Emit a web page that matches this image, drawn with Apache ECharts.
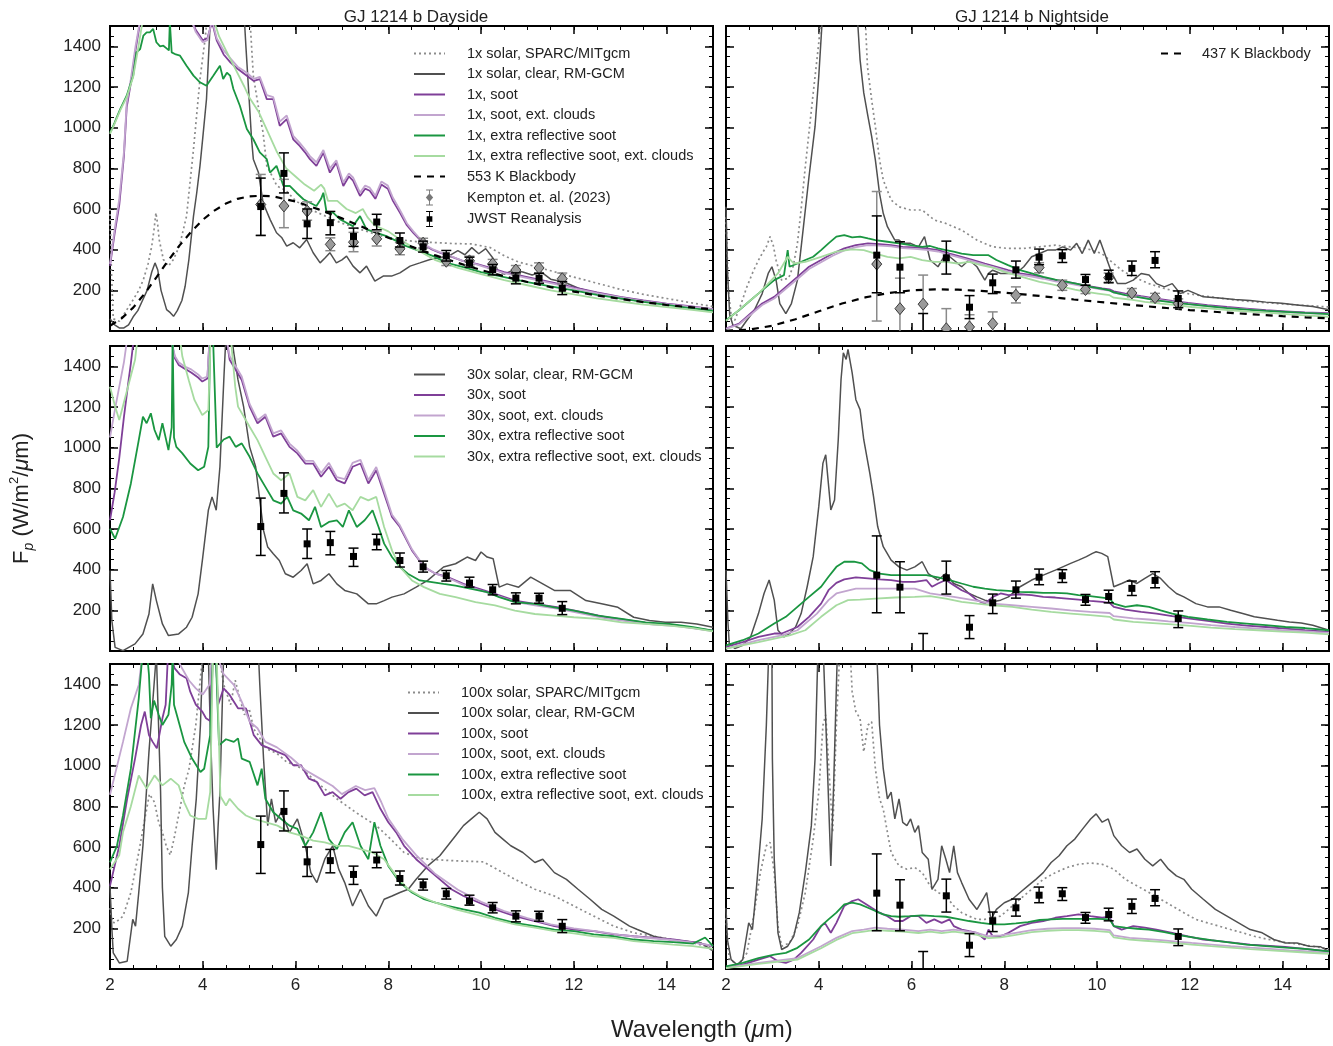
<!DOCTYPE html>
<html><head><meta charset="utf-8">
<script src="https://cdn.jsdelivr.net/npm/echarts@6/dist/echarts.min.js"></script>
<style>html,body{margin:0;padding:0;background:#fff}#c{width:1333px;height:1046px}</style>
</head><body><div id="c"></div><script>
// ---------- data: bins ----------
const binX = [5.25,5.75,6.25,6.75,7.25,7.75,8.25,8.75,9.25,9.75,10.25,10.75,11.25,11.75];
const jwstDayY  = [612,775,527,533,465,536,445,414,370,334,301,260,260,210];
const jwstDayLo = [470,679,455,473,416,498,413,388,344,314,276,232,235,179];
const jwstDayHi = [752,876,600,588,506,574,482,442,396,363,327,286,284,243];
const jwstNightY  = [373,314,-150,360,117,237,301,363,370,253,268,308,347,160];
const jwstNightLo = [188,188,-300,280,61,184,260,326,337,225,237,273,311,115];
const jwstNightHi = [566,439,86,442,174,280,344,403,400,278,299,344,390,197];
const kemptonDayY  = [622,615,590,426,437,453,404,432,343,345,330,300,310,257];
const kemptonDayLo = [470,508,545,395,390,418,375,408,322,325,308,278,285,230];
const kemptonDayHi = [770,746,635,458,485,490,435,456,365,368,352,322,335,285];
const kemptonNightY  = [329,110,132,11,20,36,176,312,225,204,262,187,164,135];
const kemptonNightLo = [49,-40,-20,-100,-50,-20,138,286,200,184,240,168,145,115];
const kemptonNightHi = [686,260,275,110,80,94,217,336,250,225,285,209,185,158];

const xTicks = [2,4,6,8,10,12,14];
const yTicks = [200,400,600,800,1000,1200,1400];

// ---------- blackbodies ----------
const bb553 = [[2.0,26],[2.25,62],[2.5,115],[2.75,185],[3.0,264],[3.25,345],[3.5,421],[3.75,488],[4.0,547],[4.25,592],[4.5,627],[4.75,650],[5.0,662],[5.25,665],[5.5,663],[6.0,637],[6.5,598],[7.0,554],[7.5,506],[8.0,459],[8.5,415],[9.0,373],[9.5,335],[10.0,300],[10.5,269],[11.0,241],[11.5,216],[12.0,194],[12.5,175],[13.0,158],[13.5,142],[14.0,128],[14.5,117],[15.0,106]];
const bb437 = [[2.0,1],[2.5,7],[3.0,26],[3.5,58],[4.0,97],[4.5,135],[5.0,165],[5.5,187],[6.0,200],[6.5,205],[7.0,203],[7.5,197],[8.0,189],[8.5,178],[9.0,167],[9.5,155],[10.0,144],[10.5,133],[11.0,123],[11.5,113],[12.0,103],[12.5,95],[13.0,87],[13.5,80],[14.0,73],[14.5,67],[15.0,62]];

// ---------- 1x dayside ----------
const daySparc1 = [[2.0,600],[2.03,300],[2.07,60],[2.2,48],[2.35,100],[2.5,154],[2.62,200],[2.72,253],[2.82,330],[2.9,417],[2.95,500],[2.99,582],[3.03,520],[3.06,450],[3.15,352],[3.26,319],[3.37,352],[3.5,420],[3.65,565],[3.8,894],[3.94,1239],[4.05,1436],[4.12,1600],[5.0,1600],[5.09,1255],[5.2,1100],[5.3,976],[5.38,812],[5.5,760],[5.6,713],[5.8,690],[6.0,640],[6.3,600],[6.6,570],[7.0,530],[7.4,500],[7.8,470],[8.2,450],[8.6,440],[9.0,435],[9.4,430],[9.8,428],[10.2,410],[10.5,370],[10.8,340],[11.2,315],[11.6,290],[12.0,265],[12.5,235],[13.0,205],[13.5,180],[14.0,160],[14.5,140],[15.0,120]];
const dayClear1 = [[2.0,60],[2.1,30],[2.2,15],[2.3,15],[2.4,30],[2.5,70],[2.6,100],[2.7,150],[2.8,200],[2.9,290],[2.97,335],[3.03,300],[3.1,200],[3.22,105],[3.3,90],[3.37,72],[3.45,100],[3.55,150],[3.62,220],[3.7,350],[3.8,565],[3.87,680],[3.94,812],[4.0,950],[4.08,1140],[4.15,1470],[4.2,1600],[4.88,1600],[4.93,1400],[5.0,1140],[5.05,950],[5.09,845],[5.2,780],[5.3,631],[5.45,549],[5.59,483],[5.7,460],[5.81,417],[5.95,434],[6.09,409],[6.24,450],[6.38,385],[6.53,335],[6.64,360],[6.74,385],[6.88,335],[7.0,350],[7.1,368],[7.24,319],[7.39,286],[7.53,319],[7.71,245],[7.89,270],[8.07,270],[8.25,286],[8.47,319],[8.68,335],[8.9,352],[9.11,360],[9.3,368],[9.5,395],[9.65,375],[9.8,410],[9.95,380],[10.1,405],[10.25,360],[10.35,300],[10.5,280],[10.7,300],[10.9,290],[11.1,275],[11.3,290],[11.5,255],[11.8,240],[12.1,210],[12.5,185],[13.0,160],[13.5,145],[14.0,130],[14.5,118],[15.0,100]];
const daySoot1 = [[2.0,320],[2.1,480],[2.2,620],[2.3,860],[2.36,1100],[2.45,1220],[2.55,1380],[2.65,1520],[3.7,1560],[3.85,1480],[4.0,1430],[4.1,1440],[4.2,1520],[4.3,1430],[4.45,1360],[4.6,1320],[4.75,1290],[4.95,1255],[5.1,1230],[5.23,1239],[5.38,1140],[5.52,1140],[5.66,1009],[5.81,1042],[5.95,943],[6.09,910],[6.2,880],[6.31,845],[6.45,812],[6.6,877],[6.74,779],[6.88,828],[7.03,713],[7.15,760],[7.24,740],[7.39,664],[7.5,700],[7.6,690],[7.72,650],[7.85,720],[7.99,700],[8.1,640],[8.25,582],[8.4,520],[8.54,483],[8.68,450],[8.82,417],[8.95,400],[9.11,385],[9.33,368],[9.6,345],[9.9,330],[10.2,310],[10.5,290],[10.8,275],[11.2,255],[11.6,235],[12.0,215],[12.5,190],[13.0,168],[13.5,150],[14.0,135],[14.5,122],[15.0,108]];
const daySootCl1 = [[2.0,330],[2.1,500],[2.2,650],[2.3,880],[2.36,1120],[2.45,1240],[2.55,1400],[2.65,1530],[3.7,1560],[3.85,1470],[4.0,1420],[4.1,1430],[4.2,1530],[4.3,1440],[4.45,1380],[4.6,1340],[4.75,1300],[4.95,1270],[5.1,1240],[5.23,1250],[5.38,1160],[5.52,1150],[5.66,1030],[5.81,1060],[5.95,960],[6.09,925],[6.2,895],[6.31,860],[6.45,830],[6.6,890],[6.74,800],[6.88,840],[7.03,730],[7.15,775],[7.24,755],[7.39,680],[7.5,715],[7.6,705],[7.72,665],[7.85,735],[7.99,715],[8.1,655],[8.25,595],[8.4,530],[8.54,490],[8.68,455],[8.82,420],[8.95,403],[9.11,388],[9.33,370],[9.6,345],[9.9,328],[10.2,306],[10.5,285],[10.8,270],[11.2,250],[11.6,230],[12.0,210],[12.5,186],[13.0,165],[13.5,147],[14.0,132],[14.5,120],[15.0,106]];
const dayRefl1 = [[2.0,976],[2.04,993],[2.1,1025],[2.22,1091],[2.36,1157],[2.5,1256],[2.57,1370],[2.65,1387],[2.72,1453],[2.79,1469],[2.86,1469],[2.93,1486],[3.0,1420],[3.08,1400],[3.15,1403],[3.22,1390],[3.27,1380],[3.29,1520],[3.33,1370],[3.42,1360],[3.51,1354],[3.65,1305],[3.8,1256],[3.94,1223],[4.08,1206],[4.23,1256],[4.37,1305],[4.44,1239],[4.52,1270],[4.59,1256],[4.66,1190],[4.8,1108],[4.95,993],[5.09,943],[5.23,878],[5.38,845],[5.45,779],[5.59,812],[5.74,713],[5.88,713],[6.02,680],[6.17,648],[6.31,631],[6.45,615],[6.55,650],[6.6,680],[6.67,582],[6.81,582],[6.96,549],[7.1,532],[7.24,516],[7.39,565],[7.53,500],[7.75,483],[7.96,467],[8.18,442],[8.39,417],[8.68,393],[8.97,368],[9.26,335],[9.6,315],[10.0,290],[10.5,265],[11.0,240],[11.5,220],[12.0,200],[12.5,178],[13.0,160],[13.5,143],[14.0,128],[14.5,113],[15.0,100]];
const dayReflCl1 = [[2.0,970],[2.1,1020],[2.22,1085],[2.36,1150],[2.5,1250],[2.6,1380],[2.7,1520],[4.25,1520],[4.35,1450],[4.5,1380],[4.7,1290],[4.9,1200],[5.0,1150],[5.2,1080],[5.4,980],[5.6,880],[5.8,800],[6.0,760],[6.2,720],[6.4,690],[6.55,720],[6.62,700],[6.7,640],[6.9,640],[7.1,600],[7.3,580],[7.45,600],[7.55,560],[7.7,520],[8.0,490],[8.25,450],[8.5,415],[9.0,350],[9.5,310],[10.0,280],[10.5,250],[11.0,225],[11.5,200],[12.0,180],[12.5,160],[13.0,145],[13.5,130],[14.0,118],[14.5,105],[15.0,92]];

// ---------- 1x nightside ----------
const nightSparc1 = [[2.0,560],[2.05,200],[2.12,60],[2.19,53],[2.32,130],[2.45,217],[2.58,290],[2.7,348],[2.8,390],[2.87,414],[2.95,464],[3.02,420],[3.08,348],[3.2,250],[3.35,260],[3.45,320],[3.54,431],[3.62,600],[3.71,809],[3.8,1000],[3.88,1170],[4.0,1417],[4.05,1550],[5.0,1550],[5.05,1300],[5.14,1137],[5.22,1006],[5.31,842],[5.39,743],[5.56,644],[5.73,611],[5.98,595],[6.23,595],[6.49,546],[6.74,529],[7.08,496],[7.41,447],[7.75,414],[8.08,406],[8.42,406],[8.76,414],[9.1,422],[9.43,414],[9.77,406],[10.1,381],[10.27,349],[10.53,299],[10.78,266],[11.12,233],[11.45,209],[11.79,190],[12.21,175],[12.63,162],[13.05,150],[13.47,142],[13.89,135],[14.31,128],[14.74,122],[15.0,118]];
const nightClear1 = [[2.0,611],[2.03,300],[2.08,80],[2.15,28],[2.32,11],[2.45,53],[2.61,102],[2.78,184],[2.91,283],[2.99,316],[3.08,250],[3.16,135],[3.29,85],[3.41,135],[3.54,250],[3.67,513],[3.79,760],[3.92,1006],[4.0,1253],[4.08,1550],[4.83,1550],[4.89,1335],[4.97,1171],[5.06,1055],[5.14,957],[5.22,842],[5.31,677],[5.39,579],[5.48,513],[5.56,480],[5.64,447],[5.73,447],[5.81,431],[5.98,431],[6.15,414],[6.28,464],[6.4,349],[6.57,316],[6.74,381],[6.91,349],[7.08,316],[7.24,349],[7.41,316],[7.58,250],[7.66,283],[7.75,299],[7.92,283],[8.08,283],[8.25,283],[8.42,316],[8.59,365],[8.76,381],[8.93,398],[9.1,398],[9.26,414],[9.43,398],[9.56,431],[9.68,381],[9.81,447],[9.94,381],[10.06,447],[10.19,365],[10.32,283],[10.44,233],[10.61,233],[10.78,250],[10.95,283],[11.12,275],[11.28,233],[11.45,217],[11.62,233],[11.79,184],[11.96,200],[12.29,168],[12.63,162],[12.97,155],[13.3,150],[13.64,142],[13.98,136],[14.31,128],[14.65,120],[15.0,105]];
const nightSoot1 = [[2.0,12],[2.28,36],[2.53,86],[2.78,135],[3.04,168],[3.29,217],[3.54,266],[3.79,316],[4.05,349],[4.3,381],[4.55,406],[4.8,422],[5.06,431],[5.31,427],[5.56,422],[5.81,414],[6.07,411],[6.32,406],[6.57,398],[6.82,381],[7.08,365],[7.33,349],[7.58,332],[7.83,316],[8.08,299],[8.34,283],[8.59,275],[8.84,263],[9.1,250],[9.35,242],[9.6,230],[9.85,220],[10.11,210],[10.27,205],[10.36,195],[10.61,184],[10.95,171],[11.28,159],[11.62,148],[11.96,138],[12.38,127],[12.8,118],[13.22,110],[13.64,102],[14.06,97],[14.48,92],[15.0,88]];
const nightSootCl1 = [[2.0,10],[2.28,32],[2.53,80],[2.78,128],[3.04,160],[3.29,208],[3.54,256],[3.79,305],[4.05,338],[4.3,370],[4.55,396],[4.8,412],[5.06,422],[5.31,420],[5.56,416],[5.81,408],[6.07,404],[6.32,399],[6.57,391],[6.82,374],[7.08,358],[7.33,342],[7.58,325],[7.83,309],[8.08,292],[8.34,277],[8.59,268],[8.84,257],[9.1,244],[9.35,236],[9.6,224],[9.85,214],[10.11,204],[10.27,199],[10.36,189],[10.61,178],[10.95,166],[11.28,154],[11.62,143],[11.96,133],[12.38,122],[12.8,113],[13.22,106],[13.64,98],[14.06,93],[14.48,88],[15.0,84]];
const nightRefl1 = [[2.0,53],[2.28,102],[2.53,151],[2.78,200],[3.04,250],[3.25,275],[3.33,398],[3.37,316],[3.54,332],[3.71,349],[3.88,365],[4.05,398],[4.21,431],[4.38,464],[4.55,472],[4.72,460],[4.89,464],[5.06,455],[5.22,447],[5.48,439],[5.73,431],[5.98,422],[6.23,414],[6.4,418],[6.57,406],[6.74,398],[6.91,390],[7.08,381],[7.33,373],[7.66,373],[7.83,349],[8.08,324],[8.34,299],[8.59,283],[8.84,266],[9.1,253],[9.35,242],[9.6,230],[9.85,217],[10.11,207],[10.27,200],[10.36,190],[10.61,176],[10.95,164],[11.28,151],[11.62,141],[11.96,132],[12.38,122],[12.8,113],[13.22,105],[13.64,99],[14.06,94],[14.48,89],[15.0,83]];
const nightReflCl1 = [[2.0,50],[2.7,184],[3.12,283],[3.33,365],[3.46,332],[3.71,340],[4.05,365],[4.38,390],[4.72,401],[4.97,398],[5.22,381],[5.48,365],[5.73,357],[5.98,365],[6.23,349],[6.49,340],[6.74,340],[6.99,332],[7.24,340],[7.5,324],[7.75,312],[8.0,291],[8.25,275],[8.51,258],[8.76,242],[9.01,230],[9.26,217],[9.52,204],[9.77,192],[10.02,184],[10.27,176],[10.36,164],[10.7,155],[11.03,143],[11.37,135],[11.71,127],[12.04,118],[12.46,110],[12.88,102],[13.3,95],[13.73,89],[14.15,82],[14.57,76],[15.0,70]];

// ---------- 30x dayside ----------
const dayClear30 = [[2.0,396],[2.04,150],[2.11,18],[2.28,2],[2.54,35],[2.71,84],[2.84,182],[2.92,330],[3.0,248],[3.13,133],[3.26,76],[3.48,84],[3.65,117],[3.77,166],[3.9,281],[4.0,462],[4.12,692],[4.2,758],[4.29,692],[4.37,906],[4.46,1366],[4.5,1550],[4.62,1550],[4.67,1465],[4.76,1333],[4.88,1202],[5.01,1004],[5.14,906],[5.23,741],[5.31,593],[5.4,511],[5.52,478],[5.65,445],[5.78,380],[5.95,363],[6.12,396],[6.25,429],[6.38,330],[6.55,347],[6.72,380],[6.89,330],[7.06,298],[7.32,281],[7.57,232],[7.74,232],[7.91,248],[8.08,265],[8.34,281],[8.6,314],[8.85,347],[9.19,413],[9.45,429],[9.7,462],[9.88,445],[10.0,487],[10.13,462],[10.26,454],[10.39,314],[10.56,330],[10.81,314],[11.07,363],[11.33,330],[11.58,298],[11.92,298],[12.26,248],[12.6,232],[12.95,215],[13.29,166],[13.63,150],[13.97,141],[14.31,141],[14.65,133],[15.0,117]];
const daySoot30 = [[2.0,643],[2.1,780],[2.2,950],[2.3,1150],[2.4,1330],[2.45,1415],[2.52,1550],[3.3,1550],[3.4,1440],[3.48,1407],[3.6,1390],[3.75,1370],[3.9,1345],[3.99,1325],[4.1,1340],[4.15,1550],[4.5,1550],[4.58,1432],[4.84,1333],[5.01,1202],[5.18,1120],[5.35,1152],[5.52,1054],[5.69,1070],[5.87,1004],[6.04,972],[6.21,922],[6.38,922],[6.55,857],[6.72,906],[6.89,840],[7.06,824],[7.23,906],[7.4,922],[7.57,824],[7.74,889],[7.91,774],[8.08,659],[8.25,610],[8.51,495],[8.77,413],[9.02,380],[9.28,363],[9.62,330],[9.96,306],[10.3,281],[10.73,248],[11.16,232],[11.67,215],[12.18,191],[12.69,166],[13.2,150],[13.72,133],[14.23,125],[14.74,108],[15.0,100]];
const daySootCl30 = [[2.0,1050],[2.1,1180],[2.2,1300],[2.3,1420],[2.38,1550],[3.3,1550],[3.4,1450],[3.48,1420],[3.6,1400],[3.75,1385],[3.9,1360],[3.99,1340],[4.1,1350],[4.15,1550],[4.5,1550],[4.58,1450],[4.84,1350],[5.01,1215],[5.18,1135],[5.35,1165],[5.52,1070],[5.69,1085],[5.87,1020],[6.04,985],[6.21,935],[6.38,935],[6.55,875],[6.72,925],[6.89,855],[7.06,845],[7.23,925],[7.4,940],[7.57,840],[7.74,905],[7.91,790],[8.08,670],[8.25,618],[8.51,500],[8.77,415],[9.02,380],[9.28,360],[9.62,325],[9.96,300],[10.3,275],[10.73,242],[11.16,225],[11.67,207],[12.18,184],[12.69,160],[13.2,145],[13.72,130],[14.23,122],[14.74,106],[15.0,98]];
const dayRefl30 = [[2.0,602],[2.11,552],[2.28,659],[2.45,824],[2.62,1037],[2.71,1152],[2.79,1120],[2.88,1169],[2.96,1087],[3.05,1037],[3.13,1120],[3.26,988],[3.33,1100],[3.35,1550],[3.38,1050],[3.43,1004],[3.56,972],[3.73,922],[3.9,889],[4.03,906],[4.12,1004],[4.16,1550],[4.22,1550],[4.3,1000],[4.45,1040],[4.58,1054],[4.71,1004],[4.84,1021],[5.01,955],[5.18,873],[5.35,807],[5.52,741],[5.69,725],[5.82,758],[5.95,692],[6.12,676],[6.29,643],[6.42,709],[6.55,610],[6.72,635],[6.89,643],[7.02,610],[7.15,692],[7.32,610],[7.49,643],[7.66,692],[7.79,610],[7.91,528],[8.08,462],[8.25,413],[8.42,380],[8.68,347],[8.94,339],[9.19,330],[9.45,322],[9.79,306],[10.13,289],[10.39,265],[10.73,240],[11.16,232],[11.58,215],[12.0,199],[12.52,174],[13.03,158],[13.54,141],[14.06,133],[14.57,117],[15.0,100]];
const dayReflCl30 = [[2.0,1300],[2.11,1202],[2.2,1136],[2.37,1284],[2.54,1432],[2.6,1550],[3.5,1550],[3.56,1448],[3.7,1330],[3.82,1235],[3.99,1160],[4.12,1185],[4.17,1550],[4.6,1550],[4.7,1300],[4.76,1202],[5.01,1103],[5.18,1037],[5.35,955],[5.52,873],[5.69,840],[5.87,873],[6.04,758],[6.21,741],[6.38,791],[6.55,709],[6.72,774],[6.89,709],[7.06,725],[7.23,692],[7.4,758],[7.57,741],[7.74,758],[7.91,610],[8.08,495],[8.25,413],[8.51,347],[8.77,314],[9.11,281],[9.45,265],[9.88,240],[10.3,224],[10.73,199],[11.16,182],[11.58,174],[12.0,166],[12.52,158],[13.03,141],[13.54,133],[14.06,125],[14.57,113],[15.0,97]];

// ---------- 30x nightside ----------
const nightClear30 = [[2.0,398],[2.04,150],[2.07,36],[2.19,12],[2.36,28],[2.53,69],[2.7,184],[2.82,283],[2.93,349],[3.04,250],[3.12,102],[3.25,69],[3.37,86],[3.5,118],[3.62,184],[3.75,316],[3.88,464],[4.0,710],[4.09,924],[4.15,965],[4.26,694],[4.34,743],[4.42,1039],[4.48,1335],[4.53,1466],[4.59,1434],[4.63,1483],[4.72,1368],[4.8,1236],[4.89,1187],[4.97,1039],[5.1,875],[5.18,760],[5.27,612],[5.39,513],[5.56,447],[5.73,414],[5.9,398],[6.07,414],[6.23,439],[6.36,381],[6.57,349],[6.74,381],[6.91,332],[7.08,316],[7.24,283],[7.41,266],[7.58,250],[7.75,242],[7.92,250],[8.09,266],[8.34,316],[8.59,349],[8.84,373],[9.1,398],[9.26,414],[9.43,431],[9.6,447],[9.77,464],[9.9,480],[9.98,488],[10.1,480],[10.23,464],[10.36,316],[10.53,332],[10.7,349],[10.86,332],[11.03,357],[11.2,381],[11.37,357],[11.54,316],[11.71,283],[11.87,266],[12.13,233],[12.38,217],[12.63,217],[12.88,200],[13.14,184],[13.39,168],[13.64,160],[13.89,151],[14.15,143],[14.4,138],[14.65,127],[15.0,102]];
const nightSoot30 = [[2.0,20],[2.36,44],[2.7,69],[3.04,86],[3.2,86],[3.37,102],[3.54,118],[3.79,168],[4.05,233],[4.21,299],[4.38,335],[4.55,352],[4.8,362],[5.06,357],[5.31,352],[5.56,349],[5.81,340],[6.07,340],[6.32,349],[6.44,316],[6.57,332],[6.74,349],[6.91,324],[7.08,299],[7.24,283],[7.41,250],[7.58,233],[7.75,266],[7.92,283],[8.09,275],[8.34,279],[8.59,275],[8.84,266],[9.1,263],[9.35,258],[9.6,253],[9.85,247],[10.11,242],[10.27,237],[10.36,217],[10.61,204],[10.95,192],[11.28,184],[11.62,171],[11.96,160],[12.38,148],[12.8,135],[13.22,125],[13.64,118],[14.06,110],[14.48,102],[15.0,94]];
const nightSootCl30 = [[2.0,12],[2.7,53],[3.2,77],[3.54,102],[3.96,184],[4.21,250],[4.38,283],[4.8,307],[5.22,307],[5.64,307],[6.07,307],[6.4,283],[6.91,266],[7.33,250],[7.75,233],[8.17,225],[8.59,217],[9.01,209],[9.43,200],[9.85,192],[10.27,187],[10.36,171],[10.78,160],[11.12,155],[11.54,146],[11.96,138],[12.46,127],[12.97,118],[13.47,110],[13.98,102],[14.48,97],[15.0,89]];
const nightRefl30 = [[2.0,28],[2.36,53],[2.7,86],[3.04,135],[3.29,168],[3.54,217],[3.79,266],[4.05,316],[4.21,365],[4.38,414],[4.55,439],[4.76,439],[4.93,431],[5.1,398],[5.31,381],[5.56,373],[5.81,373],[6.07,373],[6.32,373],[6.57,362],[6.82,349],[7.08,332],[7.33,316],[7.58,307],[7.83,299],[8.09,296],[8.34,291],[8.59,289],[8.84,286],[9.1,286],[9.35,283],[9.6,275],[9.85,270],[10.11,263],[10.27,258],[10.36,233],[10.61,217],[10.86,225],[11.12,217],[11.37,200],[11.62,184],[11.96,168],[12.38,155],[12.8,143],[13.22,135],[13.64,127],[14.06,118],[14.48,113],[15.0,102]];
const nightReflCl30 = [[2.0,12],[2.7,44],[3.37,77],[3.71,102],[4.05,168],[4.38,225],[4.63,250],[4.89,253],[5.22,258],[5.64,263],[6.07,266],[6.4,270],[6.74,258],[7.08,242],[7.41,233],[7.75,225],[8.17,217],[8.59,204],[9.01,192],[9.43,184],[9.85,176],[10.27,168],[10.36,155],[10.78,143],[11.12,138],[11.54,132],[11.96,125],[12.46,115],[12.97,108],[13.47,102],[13.98,95],[14.48,90],[15.0,82]];

// ---------- 100x dayside ----------
const daySparc100 = [[2.0,300],[2.05,230],[2.11,227],[2.28,260],[2.45,376],[2.62,573],[2.75,738],[2.85,860],[2.96,820],[3.05,720],[3.13,672],[3.22,600],[3.3,560],[3.38,640],[3.5,780],[3.6,900],[3.7,980],[3.85,1200],[4.0,1550],[4.35,1550],[4.45,1400],[4.6,1300],[4.7,1420],[4.8,1330],[4.9,1250],[5.0,1280],[5.1,1180],[5.2,1150],[5.3,1100],[5.4,1080],[5.6,1060],[5.8,1020],[6.12,988],[6.5,910],[6.89,837],[7.3,770],[7.74,705],[8.0,650],[8.34,573],[8.6,550],[8.85,540],[9.45,532],[10.05,527],[10.21,507],[10.73,441],[11.16,392],[11.58,359],[12.0,310],[12.43,260],[12.86,211],[13.29,178],[13.72,161],[14.14,145],[14.57,128],[15.0,104]];
const dayClear100 = [[2.0,409],[2.04,200],[2.07,79],[2.2,30],[2.37,38],[2.49,244],[2.55,211],[2.62,376],[2.71,606],[2.84,1068],[2.96,1430],[3.0,1550],[3.04,1550],[3.09,875],[3.13,400],[3.18,161],[3.31,112],[3.43,145],[3.56,211],[3.69,376],[3.77,606],[3.86,837],[3.95,1200],[4.0,1550],[4.12,1550],[4.16,1200],[4.22,800],[4.29,488],[4.33,700],[4.37,870],[4.45,1550],[5.2,1550],[5.23,1397],[5.31,1035],[5.4,705],[5.48,837],[5.57,721],[5.69,771],[5.87,672],[6.04,738],[6.21,606],[6.33,474],[6.46,425],[6.63,540],[6.8,606],[6.93,491],[7.06,425],[7.23,310],[7.4,392],[7.57,310],[7.74,260],[7.91,343],[8.08,359],[8.25,376],[8.43,392],[8.6,441],[8.85,507],[9.11,557],[9.28,606],[9.45,655],[9.62,705],[9.79,738],[9.96,771],[10.13,738],[10.3,672],[10.47,639],[10.64,606],[10.9,573],[11.16,524],[11.33,540],[11.58,474],[11.84,441],[12.09,392],[12.35,343],[12.6,293],[12.86,260],[13.2,211],[13.37,194],[13.72,161],[14.06,145],[14.4,137],[14.74,128],[14.95,96],[15.0,90]];
const daySoot100 = [[2.0,409],[2.2,606],[2.37,837],[2.54,1035],[2.67,1200],[2.75,1266],[2.84,1150],[2.92,1117],[3.01,1085],[3.13,1233],[3.2,1300],[3.25,1550],[3.3,1550],[3.39,1480],[3.5,1450],[3.65,1430],[3.73,1364],[3.85,1300],[3.99,1266],[4.07,1233],[4.16,1220],[4.2,1550],[4.28,1550],[4.33,1300],[4.45,1380],[4.58,1348],[4.76,1282],[4.93,1282],[5.1,1150],[5.27,1101],[5.44,1085],[5.61,1068],[5.78,1052],[5.95,1002],[6.12,1002],[6.29,936],[6.46,920],[6.63,854],[6.8,870],[6.97,837],[7.14,870],[7.31,887],[7.49,854],[7.66,870],[7.83,788],[8.0,722],[8.17,672],[8.34,606],[8.6,540],[8.85,491],[9.11,441],[9.36,392],[9.62,359],[9.96,326],[10.3,293],[10.73,260],[11.16,236],[11.58,211],[12.0,194],[12.43,186],[12.86,170],[13.29,161],[13.72,153],[14.14,145],[14.57,132],[15.0,112]];
const daySootCl100 = [[2.0,857],[2.28,1117],[2.45,1282],[2.62,1397],[2.7,1550],[3.4,1550],[3.55,1480],[3.7,1420],[3.85,1380],[4.0,1350],[4.15,1400],[4.2,1550],[4.3,1550],[4.45,1450],[4.67,1397],[4.84,1315],[5.01,1217],[5.18,1184],[5.35,1117],[5.6,1090],[5.9,1040],[6.2,980],[6.5,940],[6.8,900],[7.0,860],[7.3,900],[7.5,880],[7.7,890],[7.85,820],[8.0,740],[8.3,640],[8.6,560],[9.0,470],[9.5,390],[10.0,330],[10.5,285],[11.0,250],[11.5,220],[12.0,200],[12.5,185],[13.0,168],[13.5,155],[14.0,145],[14.5,132],[15.0,115]];
const dayRefl100 = [[2.0,524],[2.15,606],[2.28,755],[2.45,985],[2.62,1331],[2.7,1550],[2.8,1550],[2.84,1447],[2.88,1233],[2.95,1320],[3.05,1250],[3.13,1200],[3.26,1250],[3.33,1400],[3.35,1550],[3.38,1300],[3.48,1217],[3.6,1117],[3.77,1035],[3.95,969],[4.03,985],[4.16,1150],[4.22,1550],[4.28,1550],[4.35,1100],[4.5,1130],[4.67,1117],[4.76,1134],[4.84,1035],[5.01,1019],[5.18,903],[5.27,985],[5.35,837],[5.52,771],[5.69,738],[5.87,705],[6.04,689],[6.21,606],[6.38,672],[6.55,771],[6.72,639],[6.89,590],[7.06,672],[7.23,722],[7.4,606],[7.57,540],[7.7,722],[7.83,606],[8.0,507],[8.25,425],[8.51,376],[8.77,343],[9.02,326],[9.28,310],[9.62,293],[9.96,277],[10.3,252],[10.73,227],[11.16,211],[11.58,194],[12.0,186],[12.43,170],[12.86,161],[13.29,145],[13.72,137],[14.14,132],[14.57,125],[14.83,155],[15.0,112]];
const dayReflCl100 = [[2.0,491],[2.2,560],[2.28,672],[2.45,800],[2.62,952],[2.79,887],[2.96,952],[3.13,903],[3.31,936],[3.48,903],[3.6,820],[3.73,755],[3.9,738],[4.07,738],[4.16,870],[4.22,1550],[4.3,1550],[4.38,850],[4.5,804],[4.58,837],[4.76,788],[4.93,755],[5.1,738],[5.35,722],[5.61,705],[5.87,672],[6.12,656],[6.38,631],[6.63,623],[6.89,606],[7.14,606],[7.4,590],[7.66,573],[7.91,540],[8.17,458],[8.43,392],[8.68,359],[9.02,326],[9.45,293],[9.88,269],[10.3,244],[10.73,219],[11.16,203],[11.58,186],[12.0,175],[12.43,161],[12.86,153],[13.29,137],[13.72,128],[14.14,120],[14.57,112],[15.0,99]];

// ---------- 100x nightside ----------
const nightSparc100 = [[2.0,250],[2.07,46],[2.28,21],[2.45,79],[2.61,277],[2.74,474],[2.87,606],[2.95,623],[3.04,474],[3.12,211],[3.2,112],[3.37,128],[3.54,211],[3.71,376],[3.88,639],[4.0,870],[4.09,1199],[4.15,1250],[4.3,672],[4.38,1199],[4.45,1550],[4.68,1550],[4.72,1364],[4.8,1265],[4.89,1232],[4.97,1068],[5.06,1199],[5.14,1216],[5.22,985],[5.31,837],[5.39,787],[5.48,672],[5.56,573],[5.73,507],[5.9,491],[6.07,499],[6.23,474],[6.4,409],[6.57,376],[6.74,359],[6.91,310],[7.08,277],[7.24,260],[7.41,244],[7.58,244],[7.75,252],[7.92,260],[8.09,293],[8.25,326],[8.42,359],[8.59,392],[8.84,441],[9.1,474],[9.35,499],[9.6,515],[9.86,521],[10.11,515],[10.36,491],[10.61,441],[10.86,409],[11.12,376],[11.37,343],[11.62,310],[11.87,277],[12.13,244],[12.38,227],[12.63,211],[12.88,194],[13.14,178],[13.39,161],[13.64,148],[13.89,137],[14.15,128],[14.4,120],[14.65,112],[15.0,99]];
const nightClear100 = [[2.0,300],[2.03,145],[2.11,46],[2.24,21],[2.36,46],[2.49,227],[2.57,194],[2.66,409],[2.78,738],[2.87,1199],[2.92,1550],[2.99,1550],[3.0,1035],[3.04,540],[3.12,178],[3.2,96],[3.33,112],[3.46,161],[3.58,277],[3.71,474],[3.84,705],[3.92,1035],[3.98,1550],[4.1,1550],[4.2,900],[4.26,507],[4.32,900],[4.4,1550],[5.25,1550],[5.27,1446],[5.31,1199],[5.39,985],[5.48,837],[5.56,870],[5.64,738],[5.73,837],[5.81,721],[5.9,705],[5.98,738],[6.07,672],[6.15,705],[6.23,573],[6.36,540],[6.44,392],[6.57,441],[6.65,606],[6.74,540],[6.82,474],[6.91,606],[6.99,474],[7.08,425],[7.24,343],[7.41,293],[7.54,343],[7.62,376],[7.71,244],[7.83,293],[8.0,326],[8.17,343],[8.34,376],[8.51,409],[8.68,441],[8.84,474],[9.01,524],[9.18,557],[9.35,606],[9.52,639],[9.69,689],[9.86,738],[9.98,763],[10.11,722],[10.24,738],[10.36,656],[10.53,606],[10.7,573],[10.86,590],[11.03,540],[11.2,507],[11.37,540],[11.54,491],[11.71,458],[11.87,441],[12.04,392],[12.29,343],[12.55,293],[12.8,260],[13.05,227],[13.3,194],[13.56,178],[13.81,145],[14.06,128],[14.31,128],[14.57,112],[14.82,109],[15.0,87]];
const nightSoot100 = [[2.0,5],[2.36,21],[2.7,46],[2.95,63],[3.12,38],[3.29,30],[3.46,46],[3.62,79],[3.88,145],[4.05,211],[4.13,227],[4.26,178],[4.38,227],[4.55,310],[4.72,334],[4.85,343],[4.97,326],[5.14,301],[5.31,277],[5.48,260],[5.64,236],[5.81,236],[5.98,260],[6.15,260],[6.32,227],[6.49,244],[6.65,227],[6.82,244],[6.91,211],[7.08,194],[7.24,186],[7.41,178],[7.58,145],[7.66,194],[7.75,161],[7.92,161],[8.09,178],[8.34,211],[8.59,227],[8.84,236],[9.1,252],[9.35,260],[9.6,269],[9.86,260],[10.11,252],[10.27,257],[10.36,211],[10.53,194],[10.78,211],[11.03,203],[11.28,194],[11.62,178],[11.96,161],[12.29,145],[12.63,137],[12.97,128],[13.3,120],[13.64,115],[14.06,109],[14.48,99],[15.0,87]];
const nightSootCl100 = [[2.0,5],[2.7,30],[3.54,54],[4.05,112],[4.38,153],[4.72,186],[4.97,194],[5.22,203],[5.48,198],[5.81,194],[6.15,186],[6.4,194],[6.65,186],[6.91,194],[7.16,186],[7.41,178],[7.66,161],[7.92,165],[8.25,178],[8.59,191],[8.93,198],[9.26,201],[9.6,201],[9.94,198],[10.27,191],[10.36,165],[10.7,153],[11.03,148],[11.37,142],[11.71,135],[12.04,128],[12.46,120],[12.88,112],[13.3,105],[13.73,99],[14.15,92],[14.57,86],[15.0,79]];
const nightRefl100 = [[2.0,13],[2.36,30],[2.7,54],[3.04,71],[3.29,79],[3.54,104],[3.79,145],[4.05,211],[4.21,244],[4.38,277],[4.55,318],[4.72,326],[4.89,318],[5.06,301],[5.22,285],[5.39,269],[5.56,260],[5.73,257],[5.98,260],[6.23,264],[6.49,260],[6.74,257],[6.99,247],[7.24,236],[7.5,227],[7.75,219],[8.0,219],[8.25,224],[8.51,231],[8.76,241],[9.01,244],[9.26,247],[9.52,247],[9.77,247],[10.02,247],[10.27,244],[10.36,211],[10.61,203],[10.86,198],[11.12,194],[11.45,181],[11.79,165],[12.13,153],[12.46,142],[12.8,132],[13.22,120],[13.64,112],[14.06,105],[14.48,99],[15.0,87]];
const nightReflCl100 = [[2.0,4],[2.7,25],[3.54,46],[4.05,102],[4.38,143],[4.72,176],[4.97,184],[5.22,192],[5.48,188],[5.81,184],[6.15,177],[6.4,184],[6.65,176],[6.91,184],[7.16,176],[7.41,168],[7.66,152],[7.92,156],[8.25,168],[8.59,181],[8.93,188],[9.26,191],[9.6,191],[9.94,188],[10.27,181],[10.36,155],[10.7,144],[11.03,139],[11.37,133],[11.71,127],[12.04,120],[12.46,112],[12.88,105],[13.3,98],[13.73,92],[14.15,86],[14.57,80],[15.0,74]];

// ---------- styles ----------
const FONT = '"Liberation Sans", Arial, Helvetica, sans-serif';
const ST = {
  sparc:  {color:'#8c8c8c', width:1.7, type:[2,3]},
  clear:  {color:'#505050', width:1.5, type:'solid'},
  soot:   {color:'#7f3f98', width:1.8, type:'solid'},
  sootCl: {color:'#c2a5cf', width:1.8, type:'solid'},
  refl:   {color:'#1a9641', width:1.8, type:'solid'},
  reflCl: {color:'#a6dba0', width:1.8, type:'solid'},
  bb:     {color:'#000000', width:2.2, type:[7,6]}
};

const grids = [
  {left:110, top:26,  width:603, height:305},
  {left:726, top:26,  width:603, height:305},
  {left:110, top:346, width:603, height:305},
  {left:726, top:346, width:603, height:305},
  {left:110, top:664, width:603, height:305},
  {left:726, top:664, width:603, height:305}
];

const xAxes = [], yAxes = [];
grids.forEach((g, i) => {
  const bottomRow = i >= 4, leftCol = i % 2 === 0;
  const base = {type:'value', gridIndex:i, splitLine:{show:false},
    axisLine:{show:true, onZero:false, lineStyle:{color:'#000', width:2}}};
  ['bottom','top'].forEach(pos => {
    xAxes.push(Object.assign({}, base, {position:pos, min:2, max:15, interval:2,
      axisTick:{show:true, inside:true, length:8, lineStyle:{color:'#000', width:1.5}},
      axisLabel:{show: bottomRow && pos==='bottom', showMaxLabel:false, margin:8,
        fontSize:17, color:'#222', fontFamily:FONT,
        formatter: v => xTicks.includes(v) ? String(v) : ''}}));
    xAxes.push(Object.assign({}, base, {position:pos, min:2, max:15, interval:0.5,
      axisTick:{show:true, inside:true, length:4, lineStyle:{color:'#000', width:1}},
      axisLabel:{show:false}}));
  });
  ['left','right'].forEach(pos => {
    const ya = Object.assign({}, base, {position:pos, min:0, max:1500, interval:200,
      axisTick:{show:true, inside:true, length:8, lineStyle:{color:'#000', width:1.5}},
      axisLabel:{show: leftCol && pos==='left', margin:9, fontSize:17, color:'#222', fontFamily:FONT,
        formatter: v => yTicks.includes(v) ? String(v) : ''}});
    if (i === 2 && pos === 'left') {
      ya.name = '{a|F}{b|p}{a| (W/m}{c|2}{a|/}{d|μ}{a|m)}';
      ya.nameLocation = 'middle';
      ya.nameGap = 74;
      ya.nameRotate = 90;
      ya.nameTextStyle = {fontFamily:FONT, color:'#222', fontSize:22, rich:{
        a:{fontSize:22, fontFamily:FONT, color:'#222', lineHeight:28},
        b:{fontSize:14, fontFamily:FONT, color:'#222', fontStyle:'italic', verticalAlign:'bottom'},
        c:{fontSize:13, fontFamily:FONT, color:'#222', verticalAlign:'top'},
        d:{fontSize:22, fontFamily:FONT, color:'#222', fontStyle:'italic', lineHeight:28}}};
    }
    yAxes.push(ya);
    yAxes.push(Object.assign({}, base, {position:pos, min:0, max:1500, interval:50,
      axisTick:{show:true, inside:true, length:4, lineStyle:{color:'#000', width:1}},
      axisLabel:{show:false}}));
  });
});

const series = [];
function line(name, data, gi, st) {
  series.push({type:'line', name, data, xAxisIndex:gi*4, yAxisIndex:gi*4,
    symbol:'none', showSymbol:false, animation:false, silent:true, clip:true,
    lineStyle:{color:st.color, width:st.width, type:st.type}, itemStyle:{color:st.color}, z:2});
}
function errs(name, ys, lo, hi, gi, kind) {
  const data = binX.map((x, k) => [x, ys[k], lo[k], hi[k]]);
  const isK = kind === 'k';
  series.push({type:'custom', name, data, xAxisIndex:gi*4, yAxisIndex:gi*4, clip:true,
    animation:false, silent:true, z:5, encode:{x:0, y:[1,2,3]},
    itemStyle:{color: isK ? '#9a9a9a' : '#000'},
    renderItem: (params, api) => {
      const x = api.value(0);
      const c = api.coord([x, api.value(1)]);
      const cl = api.coord([x, api.value(2)]);
      const ch = api.coord([x, api.value(3)]);
      const sc = isK ? '#8a8a8a' : '#000';
      const w = 5;
      const kids = [
        {type:'line', shape:{x1:c[0], y1:cl[1], x2:c[0], y2:ch[1]}, style:{stroke:sc, lineWidth:1.5}},
        {type:'line', shape:{x1:c[0]-w, y1:cl[1], x2:c[0]+w, y2:cl[1]}, style:{stroke:sc, lineWidth:1.5}},
        {type:'line', shape:{x1:c[0]-w, y1:ch[1], x2:c[0]+w, y2:ch[1]}, style:{stroke:sc, lineWidth:1.5}}
      ];
      if (isK) {
        kids.push({type:'polygon', shape:{points:[[c[0],c[1]-6],[c[0]+5,c[1]],[c[0],c[1]+6],[c[0]-5,c[1]]]},
          style:{fill:'#9a9a9a', stroke:'#3a3a3a', lineWidth:1}});
      } else {
        kids.push({type:'rect', shape:{x:c[0]-3.5, y:c[1]-3.5, width:7, height:7}, style:{fill:'#000'}});
      }
      return {type:'group', children:kids};
    }});
}

// panel 0: 1x dayside
line('1x solar, SPARC/MITgcm', daySparc1, 0, ST.sparc);
line('1x solar, clear, RM-GCM', dayClear1, 0, ST.clear);
line('1x, soot', daySoot1, 0, ST.soot);
line('1x, soot, ext. clouds', daySootCl1, 0, ST.sootCl);
line('1x, extra reflective soot', dayRefl1, 0, ST.refl);
line('1x, extra reflective soot, ext. clouds', dayReflCl1, 0, ST.reflCl);
line('553 K Blackbody', bb553, 0, ST.bb);
errs('Kempton et. al. (2023)', kemptonDayY, kemptonDayLo, kemptonDayHi, 0, 'k');
errs('JWST Reanalysis', jwstDayY, jwstDayLo, jwstDayHi, 0, 'j');
// panel 1: 1x nightside
line('1x solar, SPARC/MITgcm', nightSparc1, 1, ST.sparc);
line('1x solar, clear, RM-GCM', nightClear1, 1, ST.clear);
line('1x, soot', nightSoot1, 1, ST.soot);
line('1x, soot, ext. clouds', nightSootCl1, 1, ST.sootCl);
line('1x, extra reflective soot', nightRefl1, 1, ST.refl);
line('1x, extra reflective soot, ext. clouds', nightReflCl1, 1, ST.reflCl);
line('437 K Blackbody', bb437, 1, ST.bb);
errs('Kempton et. al. (2023)', kemptonNightY, kemptonNightLo, kemptonNightHi, 1, 'k');
errs('JWST Reanalysis', jwstNightY, jwstNightLo, jwstNightHi, 1, 'j');
// panel 2: 30x dayside
line('30x solar, clear, RM-GCM', dayClear30, 2, ST.clear);
line('30x, soot', daySoot30, 2, ST.soot);
line('30x, soot, ext. clouds', daySootCl30, 2, ST.sootCl);
line('30x, extra reflective soot', dayRefl30, 2, ST.refl);
line('30x, extra reflective soot, ext. clouds', dayReflCl30, 2, ST.reflCl);
errs('JWST Reanalysis', jwstDayY, jwstDayLo, jwstDayHi, 2, 'j');
// panel 3: 30x nightside
line('30x solar, clear, RM-GCM', nightClear30, 3, ST.clear);
line('30x, soot', nightSoot30, 3, ST.soot);
line('30x, soot, ext. clouds', nightSootCl30, 3, ST.sootCl);
line('30x, extra reflective soot', nightRefl30, 3, ST.refl);
line('30x, extra reflective soot, ext. clouds', nightReflCl30, 3, ST.reflCl);
errs('JWST Reanalysis', jwstNightY, jwstNightLo, jwstNightHi, 3, 'j');
// panel 4: 100x dayside
line('100x solar, SPARC/MITgcm', daySparc100, 4, ST.sparc);
line('100x solar, clear, RM-GCM', dayClear100, 4, ST.clear);
line('100x, soot', daySoot100, 4, ST.soot);
line('100x, soot, ext. clouds', daySootCl100, 4, ST.sootCl);
line('100x, extra reflective soot', dayRefl100, 4, ST.refl);
line('100x, extra reflective soot, ext. clouds', dayReflCl100, 4, ST.reflCl);
errs('JWST Reanalysis', jwstDayY, jwstDayLo, jwstDayHi, 4, 'j');
// panel 5: 100x nightside
line('100x solar, SPARC/MITgcm', nightSparc100, 5, ST.sparc);
line('100x solar, clear, RM-GCM', nightClear100, 5, ST.clear);
line('100x, soot', nightSoot100, 5, ST.soot);
line('100x, soot, ext. clouds', nightSootCl100, 5, ST.sootCl);
line('100x, extra reflective soot', nightRefl100, 5, ST.refl);
line('100x, extra reflective soot, ext. clouds', nightReflCl100, 5, ST.reflCl);
errs('JWST Reanalysis', jwstNightY, jwstNightLo, jwstNightHi, 5, 'j');

const ICON_K = 'path://M2,0H8V0.8H2Z M4.6,0.8H5.4V13.2H4.6Z M2,13.2H8V14H2Z M5,3.2L8.2,7L5,10.8L1.8,7Z';
const ICON_J = 'path://M2,0H8V0.8H2Z M4.6,0.8H5.4V13.2H4.6Z M2,13.2H8V14H2Z M2.5,4.5H7.5V9.5H2.5Z';
const legBase = {orient:'vertical', itemWidth:31, itemHeight:16, itemGap:5.5, padding:0,
  selectedMode:false, itemStyle:{opacity:0},
  textStyle:{fontSize:14.5, color:'#222', fontFamily:FONT, padding:[0,0,0,17]}};
const legends = [
  Object.assign({}, legBase, {left:413, top:46, data:['1x solar, SPARC/MITgcm','1x solar, clear, RM-GCM','1x, soot','1x, soot, ext. clouds','1x, extra reflective soot','1x, extra reflective soot, ext. clouds','553 K Blackbody',
    {name:'Kempton et. al. (2023)', icon:ICON_K, itemStyle:{color:'#777', opacity:1}},
    {name:'JWST Reanalysis', icon:ICON_J, itemStyle:{color:'#000', opacity:1}}]}),
  Object.assign({}, legBase, {left:1160, top:46, itemWidth:26,
    textStyle:{fontSize:14.5, color:'#222', fontFamily:FONT, padding:[0,0,0,10]}, data:['437 K Blackbody']}),
  Object.assign({}, legBase, {left:413, top:367, data:['30x solar, clear, RM-GCM','30x, soot','30x, soot, ext. clouds','30x, extra reflective soot','30x, extra reflective soot, ext. clouds']}),
  Object.assign({}, legBase, {left:407, top:685, data:['100x solar, SPARC/MITgcm','100x solar, clear, RM-GCM','100x, soot','100x, soot, ext. clouds','100x, extra reflective soot','100x, extra reflective soot, ext. clouds']})
];

const chart = echarts.init(document.getElementById('c'), null, {renderer:'canvas'});
chart.setOption({
  backgroundColor:'#fff',
  animation:false,
  title:[
    {text:'GJ 1214 b Dayside', left:411, top:4, textAlign:'center', textStyle:{fontSize:17, fontWeight:'normal', color:'#222', fontFamily:FONT}},
    {text:'GJ 1214 b Nightside', left:1027, top:4, textAlign:'center', textStyle:{fontSize:17, fontWeight:'normal', color:'#222', fontFamily:FONT}},
    {text:'Wavelength ({d|μ}m)', left:606, top:1013, textStyle:{fontSize:24, fontWeight:'normal', color:'#222', fontFamily:FONT,
      rich:{d:{fontSize:24, fontStyle:'italic', color:'#222', fontFamily:FONT}}}}
  ],
  legend: legends,
  grid: grids,
  xAxis: xAxes,
  yAxis: yAxes,
  series
});
</script></body></html>
